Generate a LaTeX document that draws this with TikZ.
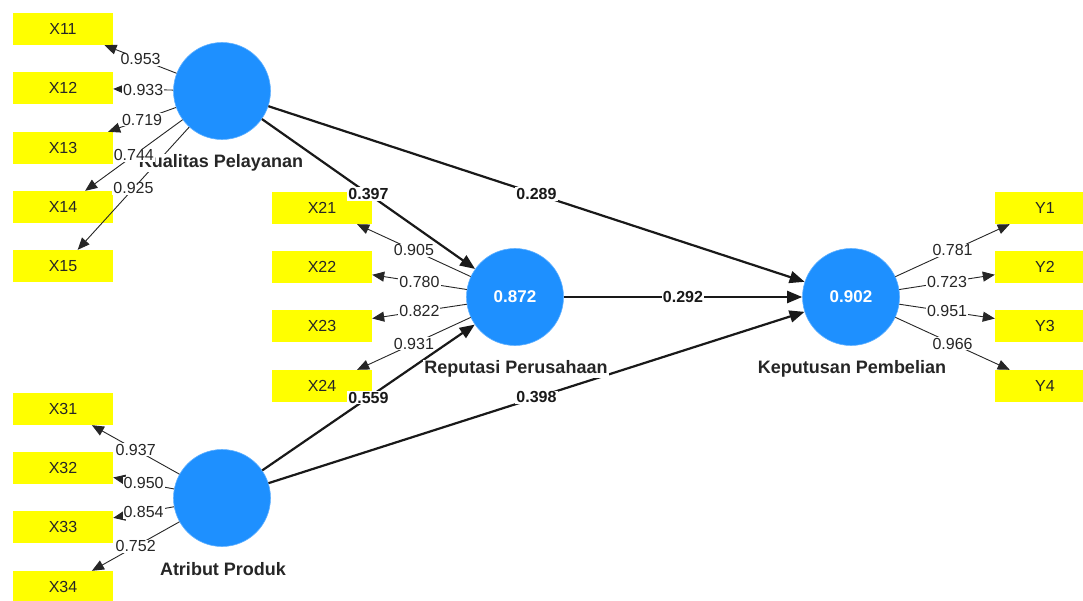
\documentclass[tikz,border=0pt]{standalone}
\usepackage{fontspec}
\setmainfont{Liberation Sans}
\usetikzlibrary{arrows.meta}
\definecolor{plsblue}{RGB}{30,144,255}
\definecolor{plsyellow}{RGB}{255,255,0}
\tikzset{
  ind/.style={rectangle, fill=plsyellow, minimum width=100pt, minimum height=32pt, inner sep=0pt, text=black!85, font=\fontsize{16}{16}\selectfont},
  lat/.style={circle, fill=plsblue, draw=plsblue!70, line width=0.6pt, minimum size=97pt, inner sep=0pt, text=white, font=\bfseries\fontsize{17}{17}\selectfont},
  latname/.style={fill=white, inner sep=1pt, text=black!85, font=\bfseries\fontsize{18}{18}\selectfont},
  ldlbl/.style={fill=white, inner sep=1pt, text=black!85, font=\fontsize{16}{16}\selectfont},
  pclbl/.style={fill=white, inner sep=1pt, text=black!90, font=\bfseries\fontsize{16}{16}\selectfont},
  larr/.style={-{Triangle[length=12pt,width=10pt]}, line width=0.9pt, black!85},
  sarr/.style={-{Triangle[length=15pt,width=12pt]}, line width=2.2pt, black!90}
}
\begin{document}
\begin{tikzpicture}[x=1pt,y=-1pt]
\useasboundingbox (0,0) rectangle (1083,601);
\clip (0,0) rectangle (1083,601);
\fill[white] (0,0) rectangle (1083,601);
% indicator boxes
\node[ind] (X11) at (63,29) {X11};
\node[ind] (X12) at (63,88) {X12};
\node[ind] (X13) at (63,148) {X13};
\node[ind] (X14) at (63,207) {X14};
\node[ind] (X15) at (63,266) {X15};
\node[ind] (X21) at (322,208) {X21};
\node[ind] (X22) at (322,267) {X22};
\node[ind] (X23) at (322,326) {X23};
\node[ind] (X24) at (322,386) {X24};
\node[ind] (X31) at (63,409) {X31};
\node[ind] (X32) at (63,468) {X32};
\node[ind] (X33) at (63,527) {X33};
\node[ind] (X34) at (63,587) {X34};
\node[ind] (Y1) at (1045,208) {Y1};
\node[ind] (Y2) at (1045,267) {Y2};
\node[ind] (Y3) at (1045,326) {Y3};
\node[ind] (Y4) at (1045,386) {Y4};
% latent variables
\node[lat] (K) at (222,91) {};
\node[lat] (R) at (515,297) {0.872};
\node[lat] (A) at (222,498) {};
\node[lat] (P) at (851,297) {0.902};
% loadings
\foreach \t in {X11,X12,X13,X14,X15} \draw[larr] (K) -- (\t);
\foreach \t in {X21,X22,X23,X24} \draw[larr] (R) -- (\t);
\foreach \t in {X31,X32,X33,X34} \draw[larr] (A) -- (\t);
\foreach \t in {Y1,Y2,Y3,Y4} \draw[larr] (P) -- (\t);
% structural paths
\draw[sarr] (K) -- (R);
\draw[sarr] (K) -- (P);
\draw[sarr] (R) -- (P);
\draw[sarr] (A) -- (R);
\draw[sarr] (A) -- (P);
% latent names
\node[latname] (KN) at (221,163) {Kualitas Pelayanan};
\node[latname] (RN) at (516,369) {Reputasi Perusahaan};
\node[latname] (AN) at (223,569) {Atribut Produk};
\node[latname] (PN) at (852,369) {Keputusan Pembelian};
% loading labels
\path (K) -- node[ldlbl] {0.953} (X11);
\path (K) -- node[ldlbl] {0.933} (X12);
\path (K) -- node[ldlbl] {0.719} (X13);
\path (K) -- node[ldlbl] {0.744} (X14);
\path (K) -- node[ldlbl] {0.925} (X15);
\path (R) -- node[ldlbl] {0.905} (X21);
\path (R) -- node[ldlbl] {0.780} (X22);
\path (R) -- node[ldlbl] {0.822} (X23);
\path (R) -- node[ldlbl] {0.931} (X24);
\path (A) -- node[ldlbl] {0.937} (X31);
\path (A) -- node[ldlbl] {0.950} (X32);
\path (A) -- node[ldlbl] {0.854} (X33);
\path (A) -- node[ldlbl] {0.752} (X34);
\path (P) -- node[ldlbl] {0.781} (Y1);
\path (P) -- node[ldlbl] {0.723} (Y2);
\path (P) -- node[ldlbl] {0.951} (Y3);
\path (P) -- node[ldlbl] {0.966} (Y4);
% path coefficients
\path (K) -- node[pclbl] {0.397} (R);
\path (K) -- node[pclbl] {0.289} (P);
\path (R) -- node[pclbl] {0.292} (P);
\path (A) -- node[pclbl] {0.559} (R);
\path (A) -- node[pclbl] {0.398} (P);
\end{tikzpicture}
\end{document}
